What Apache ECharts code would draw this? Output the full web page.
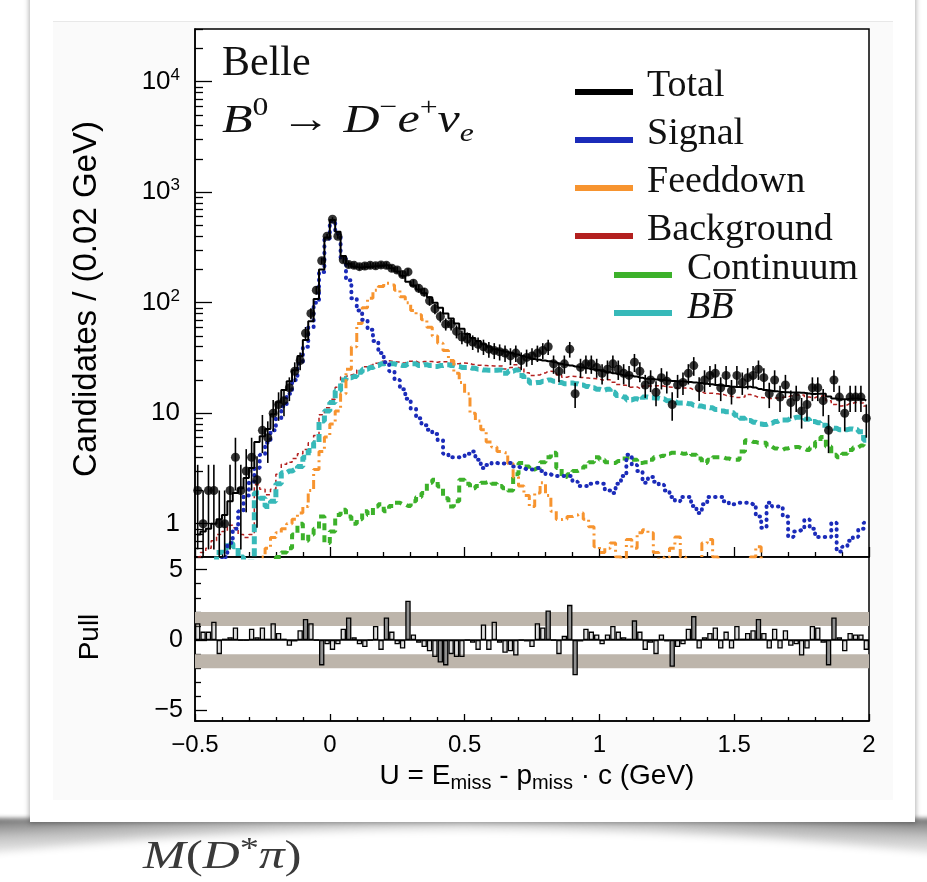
<!DOCTYPE html>
<html>
<head>
<meta charset="utf-8">
<script src="https://cdn.jsdelivr.net/npm/echarts@6/dist/echarts.min.js"></script>
<style>
  html, body { margin: 0; padding: 0; width: 927px; height: 882px; background: #fff; overflow: hidden; }
  #shadow { position: absolute; left: -10px; top: 818px; width: 947px; height: 42px;
            background:
              linear-gradient(to right, rgba(255,255,255,0) 0%, rgba(255,255,255,0.5) 30%, rgba(255,255,255,0.65) 50%, rgba(255,255,255,0.5) 70%, rgba(255,255,255,0) 100%),
              linear-gradient(rgba(50,50,50,0.7), rgba(100,100,100,0.4) 45%, rgba(255,255,255,0) 100%);
            filter: blur(2px); }
  #cut { position: absolute; left: -157px; top: 830px; width: 1240px; height: 150px; border-radius: 50%;
         background: #fff; filter: blur(4px); }
  #card { position: absolute; left: 30px; top: -10px; width: 885px; height: 832px; background: #fff;
          box-shadow: 0 0 5px 1px rgba(0,0,0,0.3); }
  #inner { position: absolute; left: 23px; top: 31px; width: 840px; height: 778px; background: #fafafa;
           border-top: 1px solid #e8e8e8; }
  #chart { position: absolute; left: 0; top: 0; width: 927px; height: 882px; }
</style>
</head>
<body>
<div id="shadow"></div>
<div id="cut"></div>
<div id="card"><div id="inner"></div></div>
<div id="chart"></div>
<script>
// Binning: 125 bins of 0.02 GeV from U = -0.5 to 2.0 GeV
const BIN_LO = -0.5;
const BIN_W = 0.02;

// Candidates per bin (fit components)
const signal = [
  0.2, 0.25, 0.3, 0.35, 0.4, 0.5, 0.67, 0.9, 1.3, 1.8,
  2.4, 3.2, 4.2, 5.4, 7.0, 9.0, 11.5, 15, 20, 28,
  40, 60, 100, 190, 380, 550, 420, 250, 160, 110,
  85, 70, 57, 45, 35, 29, 24, 20, 16.5, 13.5,
  11, 9, 7.8, 7.1, 6.5, 5.7, 4.3, 4.0, 4.0, 4.05,
  4.3, 4.5, 3.8, 3.2, 3.4, 3.55, 3.5, 3.5, 3.55, 3.3,
  3.2, 3.1, 3.1, 3.2, 3.0, 2.8, 2.7, 2.7, 2.7, 2.7,
  2.4, 2.2, 2.2, 2.3, 2.35, 2.3, 2.0, 1.9, 2.3, 2.7,
  4.2, 3.4, 3.0, 2.35, 2.65, 2.4, 2.25, 2.0, 1.75, 1.6,
  1.75, 1.75, 1.45, 1.25, 1.5, 1.75, 1.75, 1.75, 1.6, 1.5,
  1.55, 1.55, 1.55, 1.5, 1.16, 0.92, 1.55, 1.43, 1.43, 1.16,
  0.76, 0.85, 0.88, 1.09, 0.9, 0.76, 0.76, 0.76, 1.02, 0.56,
  0.62, 0.7, 0.76, 0.9, 1.02
];
const feeddown = [
  0.2, 0.2, 0.25, 0.25, 0.3, 0.3, 0.3, 0.35, 0.35, 0.4,
  0.4, 0.45, 0.5, 0.6, 0.75, 0.83, 0.9, 1.0, 1.1, 1.25,
  1.43, 2.0, 3.1, 4.5, 6.1, 8.0, 10.5, 15, 25, 40,
  65, 90, 110, 130, 140, 150, 145, 130, 113, 100,
  85, 78, 70, 60, 50, 43, 37, 30, 23, 19,
  15, 10, 8.5, 7.1, 5.5, 4.95, 4.5, 4.4, 3.5, 2.65,
  2.2, 1.8, 1.43, 1.9, 2.35, 1.8, 1.3, 1.09, 1.1, 1.16,
  1.2, 1.25, 1.1, 0.94, 0.62, 0.55, 0.6, 0.67, 0.5, 0.45,
  0.72, 0.6, 0.83, 0.88, 0.83, 0.55, 0.45, 0.5, 0.6, 0.76,
  0.5, 0.42, 0.4, 0.45, 0.67, 0.72, 0.5, 0.42, 0.4, 0.45,
  0.4, 0.38, 0.42, 0.5, 0.62, 0.45, 0.4, 0.35, 0.4, 0.38,
  0.35, 0.4, 0.45, 0.38, 0.35, 0.3, 0.35, 0.3, 0.32, 0.3,
  0.28, 0.3, 0.3, 0.25, 0.3
];
const continuum = [
  0.2, 0.2, 0.2, 0.25, 0.25, 0.25, 0.3, 0.3, 0.3, 0.3,
  0.35, 0.35, 0.35, 0.4, 0.45, 0.5, 0.55, 0.6, 0.8, 1.0,
  0.7, 0.8, 0.9, 1.16, 0.67, 0.85, 1.2, 1.34, 1.16, 1.0,
  1.1, 1.3, 1.2, 1.43, 1.5, 1.3, 1.45, 1.55, 1.5, 1.45,
  1.6, 1.75, 1.9, 2.35, 2.5, 2.17, 1.7, 1.43, 1.6, 2.5,
  2.3, 2.1, 2.2, 2.35, 2.4, 2.3, 2.2, 2.1, 2.0, 2.8,
  3.55, 3.3, 3.1, 3.2, 3.6, 4.0, 4.4, 3.2, 2.65, 2.8,
  3.0, 3.1, 3.3, 3.6, 4.0, 3.8, 3.6, 3.55, 3.7, 3.9,
  4.0, 3.8, 3.55, 3.6, 3.8, 4.0, 4.1, 4.3, 4.4, 4.4,
  4.3, 4.4, 4.2, 3.9, 3.55, 3.8, 4.0, 4.0, 3.9, 3.8,
  3.8, 4.5, 5.7, 5.5, 5.4, 5.4, 5.0, 4.8, 4.65, 4.8,
  4.9, 4.95, 4.8, 4.65, 4.9, 5.5, 6.1, 5.0, 4.2, 4.0,
  4.3, 4.65, 4.9, 5.1, 5.4
];
const bbbar = [
  0.3, 0.35, 0.4, 0.45, 0.55, 0.6, 0.67, 0.62, 0.5, 0.45,
  0.45, 1.9, 1.7, 1.43, 1.6, 2.3, 2.9, 3.0, 3.1, 3.3,
  4.0, 4.6, 5.4, 8.5, 10.5, 12.5, 16, 20, 21, 21.5,
  23.5, 25, 26, 27, 28, 28.5, 28, 27.5, 27, 28,
  28, 27, 27.5, 27, 26.5, 27, 27.5, 27, 26.5, 26,
  26, 25.5, 25, 24.6, 24.5, 24.5, 24.6, 23, 24, 24.6,
  22, 20, 18.8, 19, 19.5, 20, 19.5, 19, 18.5, 18.8,
  18.5, 18, 17.5, 17, 16.5, 16.2, 16.5, 15.5, 14.5, 14,
  13.2, 13.5, 13.2, 14, 13.8, 13.7, 13.5, 13, 12.8, 12.4,
  12.4, 12.2, 11.8, 11.6, 11.4, 11.2, 10.8, 10.5, 10.3, 10.1,
  9.6, 9.0, 8.6, 8.3, 8.0, 7.9, 8.1, 8.4, 8.7, 8.7,
  9.0, 9.2, 9.3, 8.8, 8.4, 8.2, 7.8, 7.5, 7.3, 7.1,
  7.1, 7.2, 7.1, 6.8, 5.7
];
const background = [
  0.5, 0.55, 0.6, 0.7, 0.8, 0.85, 0.97, 0.92, 0.8, 0.75,
  0.8, 2.25, 2.05, 1.83, 2.05, 2.8, 3.45, 3.6, 3.9, 4.3,
  4.7, 5.4, 6.3, 9.7, 11.2, 13.4, 17.2, 21.3, 22.2, 22.5,
  24.6, 26.3, 27.2, 28.4, 29.5, 29.8, 29.5, 29.1, 28.5, 29.5,
  29.6, 28.8, 29.4, 29.4, 29, 29.2, 29.2, 28.4, 28.1, 28.5,
  28.3, 27.6, 27.2, 27, 26.9, 26.8, 26.8, 25.1, 26, 27.4,
  25.6, 23.3, 21.9, 22.2, 23.1, 24, 23.9, 22.2, 21.2, 21.6,
  21.5, 21.1, 20.8, 20.6, 20.5, 20.0, 20.1, 19.1, 18.2, 17.9,
  17.2, 17.3, 16.8, 17.6, 17.6, 17.7, 17.6, 17.3, 17.2, 16.8,
  16.9, 16.8, 16.2, 15.7, 15.2, 15.2, 15.0, 14.8, 14.5, 14.2,
  13.9, 14.0, 14.8, 14.3, 13.9, 13.8, 13.6, 13.7, 13.9, 14.0,
  14.4, 14.6, 14.6, 14.0, 13.8, 14.2, 14.4, 13.0, 12.0, 11.6,
  11.9, 12.3, 12.5, 12.4, 11.6
];
const total = [
  0.8, 0.85, 0.9, 1.0, 1.1, 1.2, 1.6, 1.9, 2.1, 2.6,
  3.2, 5.5, 6.2, 7.2, 9.8, 12.6, 16.2, 19.5, 24.5, 33,
  46, 68, 108, 200, 390, 560, 440, 265, 225, 212,
  208, 210, 212, 214, 216, 218, 205, 192, 175, 155,
  143, 132, 122, 112, 100, 90, 80, 72, 65, 58,
  52, 48, 45, 42, 40, 38, 37, 36, 35, 34,
  33, 32, 31, 30.5, 30, 29.5, 29, 28, 27.5, 27,
  26.5, 26, 25.5, 25, 24.6, 24, 23.5, 23, 22.5, 22,
  22, 21.5, 21, 20.5, 20.4, 20.2, 20, 19.8, 19.6, 19.5,
  19.4, 19.2, 19, 18.8, 18.5, 18.3, 18, 17.8, 17.6, 17.4,
  17.3, 17.2, 17.4, 17.1, 16.6, 16.2, 16.0, 15.8, 15.6, 15.5,
  15.4, 15.4, 15.3, 15.1, 14.9, 15.0, 15.0, 14.2, 13.6, 13.4,
  13.4, 13.5, 13.6, 13.4, 13.0
];
// Observed candidates per bin
const dataCounts = [
  2, 1, 2, 2, 1, 1, 2, 4, 2, 3,
  4, 2.5, 7, 6, 10, 12, 13, 17, 24, 30,
  53, 80, 130, 240, 400, 570, 400, 245, 222, 218,
  212, 215, 218, 216, 220, 218, 205, 198, 180, 190,
  150, 135, 125, 104, 88, 75, 64, 64, 55, 49,
  47, 44, 42, 40, 38, 37, 36, 35, 33, 35,
  30, 32, 33, 35, 37, 40, 28, 24, 28, 38,
  15, 26, 28, 28, 26, 23, 25, 28, 25, 23,
  22, 29, 24, 18, 20, 15.5, 21, 19.5, 12, 18,
  19, 23, 27, 17, 20, 22, 23, 17, 22, 16,
  22, 19, 21, 22, 25, 21, 15, 20, 14, 18,
  12.5, 14, 10.5, 12, 17, 17, 13, 7, 20, 14,
  10, 14, 14, 14, 9
];
// Pull per bin
const pull = [
  1.2, 0.6, 0.6, 1.3, -1.0, 0.1, 0.2, 0.9, 0.0, 0.0,
  0.8, 0.2, 0.9, 0.1, 1.2, 0.5, 0.1, -0.4, -0.1, 0.7,
  1.5, 1.2, 0.0, -1.8, -0.3, -0.7, -0.3, 0.8, 1.6, 0.2,
  -0.3, -0.5, 0.0, 1.0, -0.7, 1.6, 0.6, -0.3, -0.6, 2.8,
  0.4, -0.2, -0.5, -0.8, -1.2, -1.6, -1.8, -1.0, -1.2, -1.2,
  0.0, -0.2, -0.7, 1.1, -0.7, 1.3, -0.2, -0.9, -0.8, -1.1,
  0.0, -0.1, -0.5, 1.2, 0.9, 2.1, 0.0, -1.0, 0.3, 2.5,
  -2.5, -0.1, 0.8, 0.6, 0.4, -0.3, 0.4, 1.0, 0.6, 0.2,
  0.1, 1.4, 0.6, -0.7, -0.2, -1.0, 0.4, -0.1, -1.9, -0.5,
  -0.3, 0.8, 1.7, -0.6, 0.2, 0.5, 0.9, -0.6, 0.6, -0.6,
  1.0, 0.1, 0.5, 0.7, 1.5, 0.5, -0.6, 0.8, -0.6, 0.7,
  -0.4, -0.3, -1.1, -0.6, 1.0, 0.9, -0.2, -1.8, 1.6, 0.2,
  -0.8, 0.5, 0.4, 0.4, -0.7
];

// Axis tick labels
const xTicks = [-0.5, 0, 0.5, 1, 1.5, 2];
const yDecades = [1, 10, 100, 1000, 10000];
const pullTicks = [-5, 0, 5];

const Y_MIN = 0.5, Y_MAX = 30000;
const P_MIN = -5.75, P_MAX = 5.9;

const centers = signal.map((_, i) => +(BIN_LO + BIN_W * (i + 0.5)).toFixed(3));
const pairs = arr => arr.map((v, i) => [centers[i], v]);

// Minor log ticks 2..9 within every decade of the range
const yMinor = [];
for (let d = -1; d <= 4; d++) {
  for (let m = 2; m <= 9; m++) {
    const v = +(m * Math.pow(10, d)).toPrecision(3);
    if (v >= Y_MIN && v <= Y_MAX && yDecades.indexOf(v) < 0) yMinor.push(v);
  }
}
const pullMinor = [-4, -3, -2, -1, 1, 2, 3, 4];

const SANS = '"Liberation Sans", Arial, Helvetica, sans-serif';
const SERIF = '"Liberation Serif", "Times New Roman", serif';
const minus = v => (v < 0 ? '\u2212' + String(-v) : String(v));

const COLORS = {
  total: '#000000', signal: '#1b2bb9', feeddown: '#f7942f',
  background: '#b3201f', continuum: '#3cb12a', bbbar: '#37b9b9'
};

function stepLine(name, arr, color, lineStyle, z) {
  return {
    name, type: 'line', xAxisIndex: 0, yAxisIndex: 0, data: pairs(arr),
    step: 'middle', symbol: 'none', clip: true, z,
    lineStyle: Object.assign({ color }, lineStyle)
  };
}

const axisBlack = { color: '#000', width: 1.5 };
const tickBlack = { color: '#000', width: 1.3 };

const legendRows = [
  { label: 'Total', color: COLORS.total, x: 575, y: 92, tx: 647 },
  { label: 'Signal', color: COLORS.signal, x: 575, y: 140, tx: 647 },
  { label: 'Feeddown', color: COLORS.feeddown, x: 575, y: 188, tx: 647 },
  { label: 'Background', color: COLORS.background, x: 575, y: 236, tx: 647 },
  { label: 'Continuum', color: COLORS.continuum, x: 614, y: 275, tx: 687 }
];

const graphics = [];
legendRows.forEach(r => {
  graphics.push({ type: 'line', shape: { x1: r.x, y1: r.y, x2: r.x + 58, y2: r.y },
    style: { stroke: r.color, lineWidth: 6 } });
  graphics.push({ type: 'text', x: r.tx, y: r.y - 6,
    style: { text: r.label, font: '38px ' + SERIF, fill: '#111',
             align: 'left', verticalAlign: 'middle', textAlign: 'left', textVerticalAlign: 'middle' } });
});
// B B-bar entry
graphics.push({ type: 'line', shape: { x1: 614, y1: 313, x2: 672, y2: 313 },
  style: { stroke: COLORS.bbbar, lineWidth: 6 } });
graphics.push({ type: 'text', x: 687, y: 308,
  style: { text: 'BB', font: 'italic 38px ' + SERIF, fill: '#111',
           align: 'left', verticalAlign: 'middle', textAlign: 'left', textVerticalAlign: 'middle' } });
// bar over the second B
graphics.push({ type: 'line', shape: { x1: 713, y1: 290, x2: 736, y2: 290 },
  style: { stroke: '#111', lineWidth: 1.6 } });

// Experiment label and decay mode
graphics.push({ type: 'text', x: 222, y: 64,
  style: { text: 'Belle', font: '42px ' + SERIF, fill: '#111',
           align: 'left', verticalAlign: 'middle', textAlign: 'left', textVerticalAlign: 'middle' } });
graphics.push({ type: 'text', x: 222, y: 121, scaleX: 1.22,
  style: {
    text: '{i|B}{sp|0}{n| \u2192 }{i|D}{sp|\u2212}{i|e}{sp|+}{i|\u03bd}{sb|e}',
    align: 'left', verticalAlign: 'middle', textAlign: 'left', textVerticalAlign: 'middle',
    rich: {
      i: { fontFamily: SERIF, fontStyle: 'italic', fontSize: 41, lineHeight: 52, fill: '#111', color: '#111' },
      n: { fontFamily: SERIF, fontSize: 41, lineHeight: 52, fill: '#111', color: '#111' },
      sp: { fontFamily: SERIF, fontSize: 26, lineHeight: 28, verticalAlign: 'top', fill: '#111', color: '#111' },
      sb: { fontFamily: SERIF, fontStyle: 'italic', fontSize: 26, lineHeight: 18, verticalAlign: 'bottom', fill: '#111', color: '#111' }
    }
  } });

// Axis titles
graphics.push({ type: 'text', x: 87, y: 299, rotation: Math.PI / 2,
  style: { text: 'Candidates / (0.02 GeV)', font: '33px ' + SANS, fill: '#000',
           align: 'center', verticalAlign: 'middle', textAlign: 'center', textVerticalAlign: 'middle' } });
graphics.push({ type: 'text', x: 90, y: 637, rotation: Math.PI / 2,
  style: { text: 'Pull', font: '28px ' + SANS, fill: '#000',
           align: 'center', verticalAlign: 'middle', textAlign: 'center', textVerticalAlign: 'middle' } });
graphics.push({ type: 'text', x: 537, y: 776,
  style: {
    text: '{m|U = E}{s|miss}{m| - p}{s|miss}{m| \u00b7 c (GeV)}',
    align: 'center', verticalAlign: 'middle', textAlign: 'center', textVerticalAlign: 'middle',
    rich: {
      m: { fontFamily: SANS, fontSize: 28, lineHeight: 34, fill: '#000', color: '#000' },
      s: { fontFamily: SANS, fontSize: 20, lineHeight: 12, verticalAlign: 'bottom', fill: '#000', color: '#000' }
    }
  } });
// Caption below the card
graphics.push({ type: 'text', x: 143, y: 857, scaleX: 1.28,
  style: {
    text: '{i|M}{n|(}{i|D}{sp|*}{i|\u03c0}{n|)}',
    align: 'left', verticalAlign: 'middle', textAlign: 'left', textVerticalAlign: 'middle',
    rich: {
      i: { fontFamily: SERIF, fontStyle: 'italic', fontSize: 40, lineHeight: 46, fill: '#3a3a3a', color: '#3a3a3a' },
      n: { fontFamily: SERIF, fontSize: 40, lineHeight: 46, fill: '#3a3a3a', color: '#3a3a3a' },
      sp: { fontFamily: SERIF, fontSize: 30, lineHeight: 30, verticalAlign: 'top', fill: '#3a3a3a', color: '#3a3a3a' }
    }
  } });

const chart = echarts.init(document.getElementById('chart'), null, { renderer: 'canvas' });

const noZero = { show: true, onZero: false, lineStyle: axisBlack };

chart.setOption({
  animation: false,
  backgroundColor: 'transparent',
  grid: [
    { left: 195, top: 29, width: 674, height: 528, show: true, borderColor: '#000', borderWidth: 1.5, backgroundColor: '#fff' },
    { left: 195, top: 557, width: 674, height: 164, show: true, borderColor: '#000', borderWidth: 1.5, backgroundColor: '#fff' }
  ],
  xAxis: [
    { gridIndex: 0, type: 'value', min: -0.5, max: 2, interval: 0.5, position: 'bottom',
      axisLine: noZero,
      axisTick: { show: true, inside: true, length: 10, lineStyle: tickBlack },
      minorTick: { show: true, splitNumber: 5, length: 5, lineStyle: tickBlack },
      axisLabel: { show: false }, splitLine: { show: false } },
    { gridIndex: 1, type: 'value', min: -0.5, max: 2, interval: 0.5, position: 'bottom',
      axisLine: noZero,
      axisTick: { show: true, inside: true, length: 7, lineStyle: tickBlack },
      minorTick: { show: true, splitNumber: 5, length: 4, lineStyle: tickBlack },
      axisLabel: { show: true, customValues: xTicks, fontSize: 24, fontFamily: SANS, color: '#000', margin: 12, formatter: minus },
      splitLine: { show: false } }
  ],
  yAxis: [
    { gridIndex: 0, type: 'log', logBase: 10, min: Y_MIN, max: Y_MAX, position: 'left',
      axisLine: noZero,
      axisTick: { show: true, inside: true, length: 17, customValues: yDecades, lineStyle: tickBlack },
      axisLabel: {
        show: true, customValues: yDecades, margin: 15, color: '#000',
        formatter: v => {
          const e = Math.round(Math.log10(v));
          if (e === 0) return '{b|1}';
          if (e === 1) return '{b|10}';
          return '{b|10}{s|' + e + '}';
        },
        rich: {
          b: { fontSize: 26, fontFamily: SANS, color: '#000', lineHeight: 30 },
          s: { fontSize: 17, fontFamily: SANS, color: '#000', lineHeight: 24, verticalAlign: 'top' }
        }
      },
      splitLine: { show: false } },
    { gridIndex: 0, type: 'log', logBase: 10, min: Y_MIN, max: Y_MAX, position: 'left',
      axisLine: { show: false, onZero: false },
      axisTick: { show: true, inside: true, length: 8, customValues: yMinor, lineStyle: tickBlack },
      axisLabel: { show: false }, splitLine: { show: false } },
    { gridIndex: 1, type: 'value', min: P_MIN, max: P_MAX, position: 'left',
      axisLine: noZero,
      axisTick: { show: true, inside: true, length: 12, customValues: pullTicks, lineStyle: tickBlack },
      axisLabel: { show: true, customValues: pullTicks, fontSize: 25, fontFamily: SANS, color: '#000', margin: 12, formatter: minus },
      splitLine: { show: false } },
    { gridIndex: 1, type: 'value', min: P_MIN, max: P_MAX, position: 'left',
      axisLine: { show: false, onZero: false },
      axisTick: { show: true, inside: true, length: 6, customValues: pullMinor, lineStyle: tickBlack },
      axisLabel: { show: false }, splitLine: { show: false } }
  ],
  series: [
    stepLine('Background', background, COLORS.background, { width: 1.5, type: [4, 3] }, 2),
    stepLine('Continuum', continuum, COLORS.continuum, { width: 4, type: [7, 5] }, 3),
    stepLine('BBbar', bbbar, COLORS.bbbar, { width: 5, type: [8, 4] }, 3),
    stepLine('Feeddown', feeddown, COLORS.feeddown, { width: 3, type: [9, 4, 2, 4] }, 4),
    stepLine('Signal', signal, COLORS.signal, { width: 4, type: [0.5, 6], cap: 'round' }, 5),
    stepLine('Total', total, COLORS.total, { width: 2, type: 'solid' }, 6),
    {
      name: 'Data errors', type: 'custom', xAxisIndex: 0, yAxisIndex: 0, z: 7, clip: true,
      data: dataCounts.map((n, i) => [centers[i], n - Math.sqrt(n), n + Math.sqrt(n)]),
      encode: { x: 0, y: [1, 2] },
      renderItem: (params, api) => {
        const x = api.value(0);
        const lo = Math.max(api.value(1), Y_MIN);
        const hi = api.value(2);
        const p1 = api.coord([x, lo]);
        const p2 = api.coord([x, hi]);
        return { type: 'line', shape: { x1: p1[0], y1: p1[1], x2: p2[0], y2: p2[1] },
                 style: { stroke: '#000', lineWidth: 1.6 } };
      }
    },
    {
      name: 'Data', type: 'scatter', xAxisIndex: 0, yAxisIndex: 0, z: 8,
      data: pairs(dataCounts), symbol: 'circle', symbolSize: 9,
      itemStyle: { color: '#000' }
    },
    {
      name: 'Pull', type: 'bar', xAxisIndex: 1, yAxisIndex: 2, z: 4,
      data: pairs(pull), barWidth: 5.4,
      itemStyle: {
        color: p => (Math.abs(p.value[1]) >= 1.4 ? '#8f8f8f' : 'rgba(150,150,150,0.3)'),
        borderColor: '#000', borderWidth: 1.3
      },
      markArea: {
        silent: true,
        itemStyle: { color: '#bdb5ab' },
        data: [[{ yAxis: 1 }, { yAxis: 2 }], [{ yAxis: -2 }, { yAxis: -1 }]]
      },
      markLine: {
        silent: true, symbol: 'none', label: { show: false },
        lineStyle: { color: '#000', width: 1.5, type: 'solid' },
        data: [{ yAxis: 0 }]
      }
    }
  ],
  graphic: graphics
});
</script>
</body>
</html>
